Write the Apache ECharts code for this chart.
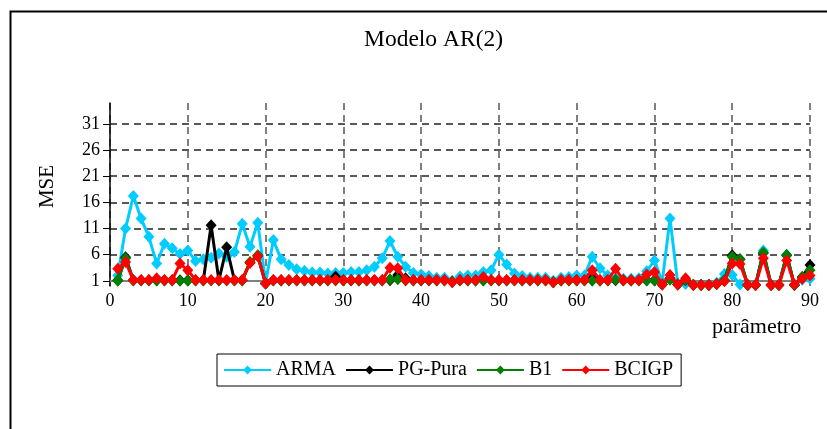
<!DOCTYPE html>
<html>
<head>
<meta charset="utf-8">
<script src="https://cdn.jsdelivr.net/npm/echarts@6/dist/echarts.min.js"></script>
<style>html,body{margin:0;padding:0;background:#fff}#c{width:827px;height:429px}</style>
</head>
<body>
<div id="c"></div>
<script>
const params = [1,2,3,4,5,6,7,8,9,10,11,12,13,14,15,16,17,18,19,20,21,22,23,24,25,26,27,28,29,30,31,32,33,34,35,36,37,38,39,40,41,42,43,44,45,46,47,48,49,50,51,52,53,54,55,56,57,58,59,60,61,62,63,64,65,66,67,68,69,70,71,72,73,74,75,76,77,78,79,80,81,82,83,84,85,86,87,88,89,90];
const arma = [2.0,11.0,17.2,12.9,9.4,4.3,8.1,7.2,6.1,6.8, 4.8,5.1,5.4,6.2,5.6,6.5,11.9,7.5,12.1,0.6, 8.8,5.1,4.0,3.2,2.9,2.6,2.6,2.4,2.5,2.5, 2.7,2.7,3.0,3.7,5.3,8.6,5.6,3.7,2.5,2.2, 1.9,1.6,1.6,1.0,1.8,2.0,2.0,2.7,3.0,6.0, 4.1,2.4,1.9,1.6,1.6,1.6,1.0,1.6,1.7,2.0, 2.0,5.6,3.4,2.0,1.5,1.4,1.4,1.5,2.8,4.9, 0.8,12.9,0.5,0.4,0.3,0.3,0.3,0.6,2.3,2.1, 0.3,0.2,0.2,6.8,0.2,0.2,6.0,0.2,1.2,1.4];
const pgPura = [1.1,5.5,1.1,1.1,1.1,1.1,1.1,1.1,1.1,1.1, 1.1,1.1,11.6,1.1,7.4,1.1,1.1,4.5,5.8,0.5, 1.1,1.1,1.1,1.1,1.1,1.1,1.1,1.1,1.8,1.1, 1.1,1.1,1.1,1.1,1.1,1.1,2.1,1.5,1.1,1.1, 1.1,1.1,1.1,0.8,1.1,1.1,1.1,1.1,1.1,1.1, 1.1,1.1,1.1,1.1,1.1,1.1,0.7,1.1,1.1,1.1, 1.1,2.2,1.1,1.1,1.1,1.1,1.1,1.1,1.1,1.1, 0.3,1.5,0.3,1.1,0.2,0.2,0.2,0.4,1.1,5.9, 5.1,0.2,0.2,6.3,0.2,0.2,5.9,0.2,1.7,4.0];
const b1 = [1.0,5.3,1.05,1.05,1.05,1.05,1.05,1.05,1.0,1.0, 1.05,1.05,1.05,1.05,1.05,1.05,1.05,4.6,5.9,0.5, 1.05,1.0,1.05,1.05,1.05,1.05,1.05,1.05,1.05,1.05, 1.05,1.0,1.05,1.05,1.05,1.3,1.3,1.05,1.05,1.05, 1.05,1.05,1.05,0.8,1.05,1.05,1.0,1.05,1.05,1.05, 1.05,1.05,1.05,1.05,1.05,1.05,0.7,1.0,1.05,1.05, 1.05,1.0,1.0,1.05,1.2,1.05,1.0,1.05,1.05,1.05, 0.3,1.2,0.3,1.2,0.2,0.2,0.2,0.4,1.1,5.6, 5.1,0.2,0.2,6.4,0.2,0.2,5.9,0.2,1.7,3.0];
const bcigp = [3.3,4.6,1.15,1.15,1.15,1.5,1.15,1.15,4.3,3.0, 1.15,1.15,1.15,1.15,1.15,1.15,1.15,4.4,5.7,0.5, 1.15,1.15,1.15,1.15,1.15,1.15,1.15,1.15,1.15,1.15, 1.15,1.15,1.15,1.15,1.15,3.5,3.4,1.15,1.15,1.15, 1.15,1.15,1.15,0.7,1.15,1.15,1.15,1.7,1.15,1.15, 1.15,1.15,1.15,1.15,1.15,1.15,0.7,1.15,1.15,1.15, 1.15,3.0,1.15,1.15,3.3,1.1,1.1,1.1,2.2,2.7, 0.3,2.1,0.3,1.5,0.2,0.2,0.2,0.4,0.9,4.3, 4.2,0.2,0.2,5.3,0.2,0.2,4.9,0.3,1.4,2.0];
const seriesNames = ['ARMA', 'PG-Pura', 'B1', 'BCIGP'];
const yTicks = [1, 6, 11, 16, 21, 26, 31];
const xTicks = [0, 10, 20, 30, 40, 50, 60, 70, 80, 90];

const FONT = 'Liberation Serif';
const colors = ['#00CCFF', '#000000', '#008000', '#FF0000'];
const values = [arma, pgPura, b1, bcigp];

const chart = echarts.init(document.getElementById('c'), null, {renderer: 'canvas'});
const series = seriesNames.map((name, k) => {
  const s = {
    name: name,
    type: 'line',
    data: params.map((p, i) => [p, values[k][i]]),
    symbol: 'diamond',
    symbolSize: [11, 12],
    showSymbol: true,
    lineStyle: {color: colors[k], width: 3},
    itemStyle: {color: colors[k]},
    emphasis: {disabled: true},
    z: 3 + k,
    animation: false
  };
  if (k === 0) {
    s.markLine = {
      silent: true,
      symbol: 'none',
      label: {show: false},
      lineStyle: {color: '#808080', width: 2, type: 'solid'},
      data: [{yAxis: yTicks[0]}],
      z: 1
    };
  }
  return s;
});

chart.setOption({
  animation: false,
  title: {
    text: 'Modelo AR(2)',
    left: 359,
    top: 23,
    textStyle: {fontFamily: FONT, fontSize: 23.5, fontWeight: 'normal', color: '#000'}
  },
  legend: {
    data: seriesNames,
    left: 217,
    top: 354,
    itemWidth: 47,
    itemHeight: 11,
    itemGap: 9,
    padding: [6, 8, 6, 6],
    borderColor: '#000',
    borderWidth: 1,
    textStyle: {fontFamily: FONT, fontSize: 20, color: '#000'}
  },
  grid: {left: 110, right: 17, top: 103, bottom: 143, containLabel: false},
  xAxis: {
    type: 'value',
    min: 0,
    max: 90,
    interval: 10,
    axisLine: {show: false},
    axisTick: {show: false},
    axisLabel: {fontFamily: FONT, fontSize: 18, color: '#000', margin: 6},
    splitLine: {show: true, lineStyle: {color: '#555', width: 1.5, type: [7, 5]}}
  },
  yAxis: {
    type: 'value',
    min: 0,
    max: 35,
    name: 'MSE',
    nameLocation: 'middle',
    nameRotate: 90,
    nameGap: 52,
    nameTextStyle: {fontFamily: FONT, fontSize: 21, color: '#000', padding: [0, 0, 0, 16]},
    axisLine: {show: true, lineStyle: {color: '#000', width: 1.5}},
    axisTick: {show: true, inside: false, length: 7, customValues: yTicks, lineStyle: {color: '#000'}},
    axisLabel: {customValues: yTicks, fontFamily: FONT, fontSize: 18, color: '#000', margin: 10},
    splitLine: {show: true, lineStyle: {color: '#222', width: 1.5, type: [7, 5]}}
  },
  graphic: [
    {type: 'rect', left: 8, top: 9, shape: {width: 900, height: 500}, style: {fill: 'none', stroke: '#000', lineWidth: 2}, silent: true},
    {type: 'text', left: 712, top: 316, style: {text: 'parâmetro', fontFamily: FONT, fontSize: 22, fill: '#000'}}
  ],
  series: series
});
</script>
</body>
</html>
